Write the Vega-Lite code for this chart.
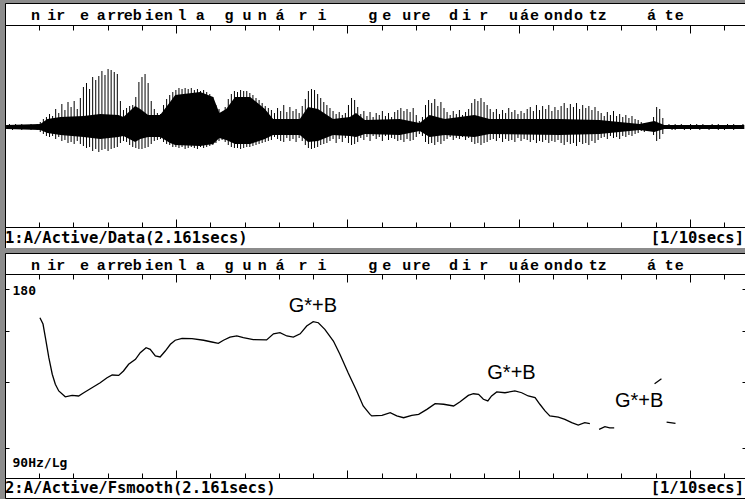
{
"$schema": "https://vega.github.io/schema/vega-lite/v6.json",
"background": "#8c8c8c",
"padding": {"left": 4, "top": 2, "right": 1, "bottom": 2},
"spacing": 0,
"bounds": "flush",
"config": {"view": {"stroke": "black", "strokeWidth": 1, "fill": "white"}},
"datasets": {
"phon": [{"t":89,"c":"n"},{"t":150,"c":"ir"},{"t":232,"c":"e"},{"t":281,"c":"a"},{"t":325,"c":"rr"},{"t":360,"c":"e"},{"t":386,"c":"b"},{"t":421,"c":"i"},{"t":450,"c":"e"},{"t":477,"c":"n"},{"t":517,"c":"l"},{"t":570,"c":"a"},{"t":654,"c":"g"},{"t":707,"c":"u"},{"t":751,"c":"n"},{"t":803,"c":"á"},{"t":870,"c":"r"},{"t":926,"c":"i"},{"t":1074,"c":"g"},{"t":1115,"c":"e"},{"t":1173,"c":"u"},{"t":1216,"c":"re"},{"t":1310,"c":"d"},{"t":1348,"c":"i"},{"t":1398,"c":"r"},{"t":1485,"c":"u"},{"t":1517,"c":"á"},{"t":1546,"c":"e"},{"t":1587,"c":"o"},{"t":1616,"c":"n"},{"t":1645,"c":"d"},{"t":1675,"c":"o"},{"t":1731,"c":"tz"},{"t":1888,"c":"á"},{"t":1940,"c":"t"},{"t":1969,"c":"e"}],
"spk": [{"t":4,"hi":2,"lo":-2},{"t":13,"hi":3,"lo":-2},{"t":22,"hi":2,"lo":-3},{"t":31,"hi":3,"lo":-2},{"t":40,"hi":1,"lo":-2},{"t":49,"hi":3,"lo":-3},{"t":58,"hi":2,"lo":-2},{"t":67,"hi":2,"lo":-2},{"t":76,"hi":3,"lo":-3},{"t":85,"hi":2,"lo":-2},{"t":94,"hi":3,"lo":-3},{"t":103,"hi":5,"lo":-5},{"t":112,"hi":8,"lo":-7},{"t":121,"hi":10,"lo":-9},{"t":130,"hi":13,"lo":-10},{"t":139,"hi":11,"lo":-9},{"t":148,"hi":18,"lo":-12},{"t":157,"hi":14,"lo":-10},{"t":166,"hi":23,"lo":-14},{"t":175,"hi":17,"lo":-13},{"t":184,"hi":25,"lo":-16},{"t":193,"hi":20,"lo":-15},{"t":202,"hi":26,"lo":-17},{"t":211,"hi":18,"lo":-14},{"t":220,"hi":29,"lo":-17},{"t":229,"hi":40,"lo":-19},{"t":238,"hi":44,"lo":-21},{"t":247,"hi":38,"lo":-20},{"t":256,"hi":50,"lo":-24},{"t":265,"hi":47,"lo":-22},{"t":274,"hi":51,"lo":-25},{"t":283,"hi":56,"lo":-23},{"t":292,"hi":52,"lo":-22},{"t":301,"hi":58,"lo":-24},{"t":310,"hi":57,"lo":-22},{"t":319,"hi":55,"lo":-21},{"t":328,"hi":53,"lo":-20},{"t":337,"hi":26,"lo":-16},{"t":346,"hi":17,"lo":-14},{"t":355,"hi":19,"lo":-15},{"t":364,"hi":21,"lo":-18},{"t":373,"hi":22,"lo":-20},{"t":382,"hi":30,"lo":-21},{"t":391,"hi":45,"lo":-22},{"t":400,"hi":50,"lo":-22},{"t":409,"hi":53,"lo":-21},{"t":418,"hi":44,"lo":-20},{"t":427,"hi":26,"lo":-17},{"t":436,"hi":18,"lo":-14},{"t":445,"hi":14,"lo":-13},{"t":454,"hi":13,"lo":-12},{"t":463,"hi":22,"lo":-15},{"t":472,"hi":28,"lo":-17},{"t":481,"hi":32,"lo":-18},{"t":490,"hi":35,"lo":-20},{"t":499,"hi":37,"lo":-20},{"t":508,"hi":39,"lo":-21},{"t":517,"hi":38,"lo":-20},{"t":526,"hi":39,"lo":-22},{"t":535,"hi":38,"lo":-21},{"t":544,"hi":39,"lo":-20},{"t":553,"hi":37,"lo":-21},{"t":562,"hi":38,"lo":-22},{"t":571,"hi":36,"lo":-20},{"t":580,"hi":37,"lo":-21},{"t":589,"hi":35,"lo":-20},{"t":598,"hi":33,"lo":-19},{"t":607,"hi":30,"lo":-18},{"t":616,"hi":22,"lo":-16},{"t":625,"hi":18,"lo":-14},{"t":634,"hi":15,"lo":-13},{"t":643,"hi":20,"lo":-15},{"t":652,"hi":28,"lo":-18},{"t":661,"hi":33,"lo":-20},{"t":670,"hi":36,"lo":-21},{"t":679,"hi":35,"lo":-21},{"t":688,"hi":37,"lo":-22},{"t":697,"hi":36,"lo":-21},{"t":706,"hi":36,"lo":-20},{"t":715,"hi":34,"lo":-20},{"t":724,"hi":32,"lo":-19},{"t":733,"hi":29,"lo":-18},{"t":742,"hi":27,"lo":-17},{"t":751,"hi":24,"lo":-16},{"t":760,"hi":21,"lo":-15},{"t":769,"hi":19,"lo":-14},{"t":778,"hi":17,"lo":-13},{"t":787,"hi":14,"lo":-10},{"t":796,"hi":19,"lo":-12},{"t":805,"hi":16,"lo":-14},{"t":814,"hi":22,"lo":-15},{"t":823,"hi":15,"lo":-11},{"t":832,"hi":20,"lo":-14},{"t":841,"hi":16,"lo":-12},{"t":850,"hi":18,"lo":-15},{"t":859,"hi":14,"lo":-11},{"t":868,"hi":21,"lo":-14},{"t":877,"hi":28,"lo":-18},{"t":886,"hi":36,"lo":-21},{"t":895,"hi":38,"lo":-22},{"t":904,"hi":37,"lo":-21},{"t":913,"hi":33,"lo":-20},{"t":922,"hi":29,"lo":-18},{"t":931,"hi":25,"lo":-17},{"t":940,"hi":22,"lo":-16},{"t":949,"hi":19,"lo":-14},{"t":958,"hi":16,"lo":-12},{"t":967,"hi":13,"lo":-16},{"t":976,"hi":15,"lo":-12},{"t":985,"hi":12,"lo":-15},{"t":994,"hi":14,"lo":-11},{"t":1003,"hi":22,"lo":-16},{"t":1012,"hi":29,"lo":-18},{"t":1021,"hi":27,"lo":-17},{"t":1030,"hi":20,"lo":-15},{"t":1039,"hi":13,"lo":-11},{"t":1048,"hi":16,"lo":-13},{"t":1057,"hi":11,"lo":-10},{"t":1066,"hi":15,"lo":-14},{"t":1075,"hi":10,"lo":-9},{"t":1084,"hi":14,"lo":-12},{"t":1093,"hi":12,"lo":-10},{"t":1102,"hi":16,"lo":-14},{"t":1111,"hi":11,"lo":-9},{"t":1120,"hi":14,"lo":-13},{"t":1129,"hi":10,"lo":-11},{"t":1138,"hi":15,"lo":-12},{"t":1147,"hi":17,"lo":-14},{"t":1156,"hi":19,"lo":-13},{"t":1165,"hi":16,"lo":-15},{"t":1174,"hi":18,"lo":-12},{"t":1183,"hi":15,"lo":-14},{"t":1192,"hi":19,"lo":-13},{"t":1201,"hi":12,"lo":-10},{"t":1210,"hi":6,"lo":-7},{"t":1219,"hi":10,"lo":-9},{"t":1228,"hi":22,"lo":-15},{"t":1237,"hi":27,"lo":-17},{"t":1246,"hi":24,"lo":-16},{"t":1255,"hi":28,"lo":-18},{"t":1264,"hi":21,"lo":-15},{"t":1273,"hi":25,"lo":-17},{"t":1282,"hi":19,"lo":-14},{"t":1291,"hi":15,"lo":-12},{"t":1300,"hi":12,"lo":-10},{"t":1309,"hi":16,"lo":-13},{"t":1318,"hi":13,"lo":-11},{"t":1327,"hi":17,"lo":-12},{"t":1336,"hi":12,"lo":-10},{"t":1345,"hi":15,"lo":-13},{"t":1354,"hi":18,"lo":-11},{"t":1363,"hi":24,"lo":-15},{"t":1372,"hi":28,"lo":-17},{"t":1381,"hi":26,"lo":-16},{"t":1390,"hi":29,"lo":-18},{"t":1399,"hi":25,"lo":-16},{"t":1408,"hi":22,"lo":-15},{"t":1417,"hi":18,"lo":-13},{"t":1426,"hi":15,"lo":-12},{"t":1435,"hi":18,"lo":-14},{"t":1444,"hi":13,"lo":-11},{"t":1453,"hi":17,"lo":-15},{"t":1462,"hi":14,"lo":-12},{"t":1471,"hi":19,"lo":-14},{"t":1480,"hi":15,"lo":-13},{"t":1489,"hi":17,"lo":-15},{"t":1498,"hi":13,"lo":-11},{"t":1507,"hi":16,"lo":-14},{"t":1516,"hi":14,"lo":-12},{"t":1525,"hi":18,"lo":-13},{"t":1534,"hi":20,"lo":-15},{"t":1543,"hi":16,"lo":-13},{"t":1552,"hi":22,"lo":-16},{"t":1561,"hi":17,"lo":-14},{"t":1570,"hi":21,"lo":-15},{"t":1579,"hi":18,"lo":-13},{"t":1588,"hi":22,"lo":-16},{"t":1597,"hi":16,"lo":-14},{"t":1606,"hi":20,"lo":-15},{"t":1615,"hi":17,"lo":-13},{"t":1624,"hi":21,"lo":-16},{"t":1633,"hi":24,"lo":-18},{"t":1642,"hi":19,"lo":-15},{"t":1651,"hi":23,"lo":-17},{"t":1660,"hi":20,"lo":-16},{"t":1669,"hi":24,"lo":-19},{"t":1678,"hi":18,"lo":-15},{"t":1687,"hi":22,"lo":-17},{"t":1696,"hi":19,"lo":-16},{"t":1705,"hi":21,"lo":-18},{"t":1714,"hi":17,"lo":-14},{"t":1723,"hi":20,"lo":-16},{"t":1732,"hi":16,"lo":-13},{"t":1741,"hi":14,"lo":-11},{"t":1750,"hi":11,"lo":-10},{"t":1759,"hi":15,"lo":-12},{"t":1768,"hi":12,"lo":-9},{"t":1777,"hi":16,"lo":-11},{"t":1786,"hi":11,"lo":-10},{"t":1795,"hi":13,"lo":-12},{"t":1804,"hi":10,"lo":-9},{"t":1813,"hi":12,"lo":-10},{"t":1822,"hi":9,"lo":-8},{"t":1831,"hi":11,"lo":-9},{"t":1840,"hi":8,"lo":-7},{"t":1849,"hi":7,"lo":-6},{"t":1858,"hi":5,"lo":-4},{"t":1867,"hi":4,"lo":-5},{"t":1876,"hi":3,"lo":-4},{"t":1885,"hi":5,"lo":-3},{"t":1894,"hi":10,"lo":-8},{"t":1903,"hi":20,"lo":-14},{"t":1912,"hi":18,"lo":-12},{"t":1921,"hi":9,"lo":-7},{"t":1930,"hi":2,"lo":-2},{"t":1939,"hi":3,"lo":-2},{"t":1948,"hi":2,"lo":-3},{"t":1957,"hi":3,"lo":-3},{"t":1966,"hi":2,"lo":-2},{"t":1975,"hi":3,"lo":-2},{"t":1984,"hi":2,"lo":-3},{"t":1993,"hi":2,"lo":-2},{"t":2002,"hi":3,"lo":-3},{"t":2011,"hi":2,"lo":-2},{"t":2020,"hi":3,"lo":-2},{"t":2029,"hi":2,"lo":-3},{"t":2038,"hi":3,"lo":-2},{"t":2047,"hi":2,"lo":-2},{"t":2056,"hi":2,"lo":-3},{"t":2065,"hi":3,"lo":-2},{"t":2074,"hi":2,"lo":-2},{"t":2083,"hi":3,"lo":-3},{"t":2092,"hi":2,"lo":-2},{"t":2101,"hi":2,"lo":-3},{"t":2110,"hi":3,"lo":-2},{"t":2119,"hi":2,"lo":-2},{"t":2128,"hi":3,"lo":-3},{"t":2137,"hi":2,"lo":-2},{"t":2146,"hi":2,"lo":-2},{"t":2155,"hi":3,"lo":-2}],
"core": [{"t":4,"chi":2,"clo":-2},{"t":103,"chi":3,"clo":-3},{"t":124,"chi":8,"clo":-6},{"t":162,"chi":10,"clo":-8},{"t":229,"chi":11,"clo":-10},{"t":278,"chi":13,"clo":-12},{"t":331,"chi":12,"clo":-10},{"t":346,"chi":10,"clo":-9},{"t":380,"chi":21,"clo":-15},{"t":395,"chi":18,"clo":-12},{"t":418,"chi":12,"clo":-10},{"t":453,"chi":12,"clo":-10},{"t":482,"chi":25,"clo":-16},{"t":497,"chi":32,"clo":-18},{"t":570,"chi":35,"clo":-19},{"t":608,"chi":30,"clo":-17},{"t":626,"chi":14,"clo":-11},{"t":646,"chi":18,"clo":-13},{"t":672,"chi":30,"clo":-17},{"t":716,"chi":30,"clo":-17},{"t":759,"chi":18,"clo":-12},{"t":783,"chi":8,"clo":-8},{"t":861,"chi":8,"clo":-8},{"t":885,"chi":20,"clo":-15},{"t":914,"chi":18,"clo":-14},{"t":958,"chi":8,"clo":-8},{"t":1007,"chi":10,"clo":-9},{"t":1025,"chi":14,"clo":-10},{"t":1051,"chi":7,"clo":-7},{"t":1153,"chi":8,"clo":-8},{"t":1211,"chi":4,"clo":-4},{"t":1240,"chi":12,"clo":-10},{"t":1284,"chi":8,"clo":-8},{"t":1371,"chi":12,"clo":-10},{"t":1415,"chi":8,"clo":-7},{"t":1619,"chi":8,"clo":-8},{"t":1736,"chi":7,"clo":-7},{"t":1853,"chi":3,"clo":-3},{"t":1896,"chi":6,"clo":-5},{"t":1925,"chi":2,"clo":-2},{"t":2159,"chi":2,"clo":-2}],
"f0": [{"t":102,"f":158.7,"seg":1},{"t":111,"f":154.4,"seg":1},{"t":118,"f":145.5,"seg":1},{"t":128,"f":133.4,"seg":1},{"t":138,"f":124.1,"seg":1},{"t":147,"f":118.8,"seg":1},{"t":157,"f":115.4,"seg":1},{"t":176,"f":112.5,"seg":1},{"t":196,"f":113.2,"seg":1},{"t":215,"f":112.9,"seg":1},{"t":230,"f":114.5,"seg":1},{"t":254,"f":117.0,"seg":1},{"t":278,"f":119.6,"seg":1},{"t":298,"f":122.2,"seg":1},{"t":313,"f":123.7,"seg":1},{"t":332,"f":123.5,"seg":1},{"t":346,"f":125.9,"seg":1},{"t":361,"f":129.6,"seg":1},{"t":381,"f":132.4,"seg":1},{"t":395,"f":136.3,"seg":1},{"t":412,"f":139.3,"seg":1},{"t":424,"f":138.3,"seg":1},{"t":439,"f":134.4,"seg":1},{"t":453,"f":133.8,"seg":1},{"t":468,"f":137.3,"seg":1},{"t":483,"f":141.4,"seg":1},{"t":497,"f":143.9,"seg":1},{"t":517,"f":145.1,"seg":1},{"t":546,"f":144.9,"seg":1},{"t":580,"f":143.9,"seg":1},{"t":604,"f":142.8,"seg":1},{"t":623,"f":142.0,"seg":1},{"t":638,"f":143.9,"seg":1},{"t":657,"f":145.9,"seg":1},{"t":677,"f":146.6,"seg":1},{"t":696,"f":145.5,"seg":1},{"t":725,"f":144.3,"seg":1},{"t":764,"f":144.1,"seg":1},{"t":784,"f":148.0,"seg":1},{"t":803,"f":148.7,"seg":1},{"t":823,"f":146.6,"seg":1},{"t":842,"f":145.9,"seg":1},{"t":862,"f":148.0,"seg":1},{"t":881,"f":153.1,"seg":1},{"t":900,"f":156.0,"seg":1},{"t":915,"f":155.3,"seg":1},{"t":934,"f":150.9,"seg":1},{"t":959,"f":143.4,"seg":1},{"t":978,"f":135.4,"seg":1},{"t":1002,"f":124.9,"seg":1},{"t":1027,"f":115.4,"seg":1},{"t":1046,"f":108.1,"seg":1},{"t":1066,"f":104.2,"seg":1},{"t":1071,"f":103.5,"seg":1},{"t":1101,"f":103.8,"seg":1},{"t":1125,"f":105.0,"seg":1},{"t":1144,"f":103.5,"seg":1},{"t":1164,"f":102.7,"seg":1},{"t":1188,"f":103.8,"seg":1},{"t":1208,"f":104.2,"seg":1},{"t":1232,"f":106.5,"seg":1},{"t":1256,"f":109.2,"seg":1},{"t":1281,"f":108.9,"seg":1},{"t":1310,"f":108.1,"seg":1},{"t":1329,"f":110.1,"seg":1},{"t":1353,"f":113.2,"seg":1},{"t":1368,"f":114.0,"seg":1},{"t":1383,"f":113.7,"seg":1},{"t":1397,"f":111.3,"seg":1},{"t":1410,"f":110.5,"seg":1},{"t":1421,"f":112.9,"seg":1},{"t":1436,"f":114.9,"seg":1},{"t":1460,"f":114.5,"seg":1},{"t":1489,"f":115.4,"seg":1},{"t":1509,"f":114.5,"seg":1},{"t":1528,"f":112.9,"seg":1},{"t":1548,"f":112.1,"seg":1},{"t":1562,"f":108.9,"seg":1},{"t":1577,"f":105.8,"seg":1},{"t":1591,"f":103.5,"seg":1},{"t":1616,"f":103.0,"seg":1},{"t":1635,"f":102.0,"seg":1},{"t":1655,"f":100.5,"seg":1},{"t":1674,"f":99.5,"seg":1},{"t":1693,"f":100.5,"seg":1},{"t":1708,"f":100.1,"seg":1},{"t":1735,"f":97.6,"seg":2},{"t":1752,"f":98.8,"seg":2},{"t":1766,"f":98.3,"seg":2},{"t":1779,"f":98.3,"seg":2},{"t":1897,"f":119.1,"seg":3},{"t":1917,"f":121.7,"seg":3},{"t":1932,"f":100.8,"seg":4},{"t":1958,"f":100.2,"seg":4}],
"ann": [{"t":899,"f":167.0,"s":"G*+B"},{"t":1479,"f":124.8,"s":"G*+B"},{"t":1852,"f":110.5,"s":"G*+B"}],
"ylab": [{"t":22,"f":178.3,"s":"180"},{"t":22,"f":84.3,"s":"90Hz/Lg"}]
},
"vconcat": [
 {"width": 740, "height": 22, "data": {"name": "phon"},
  "mark": {"type": "text", "font": "Liberation Mono", "fontWeight": "bold", "fontSize": 15, "baseline": "middle", "dy": 1, "color": "black"},
  "encoding": {"x": {"field": "t", "type": "quantitative", "scale": {"domain": [0, 2161], "nice": false, "zero": false}, "axis": null}, "text": {"field": "c"}}},
 {"width": 740, "height": 202, "layer": [
  {"data": {"name": "core"}, "mark": {"type": "area", "color": "black"},
   "encoding": {"x": {"field": "t", "type": "quantitative", "scale": {"domain": [0, 2161], "nice": false, "zero": false},
     "axis": {"orient": "top", "values": [0,100,200,300,400,500,600,700,800,900,1000,1100,1200,1300,1400,1500,1600,1700,1800,1900,2000,2100], "tickSize": {"condition": {"test": "datum.value % 500 === 0", "value": -8}, "value": -5}, "labels": false, "domain": false, "grid": false, "title": null, "tickColor": "black"}},
    "y": {"field": "chi", "type": "quantitative", "scale": {"domain": [-100, 102], "nice": false, "zero": false}, "axis": null},
    "y2": {"field": "clo"}}},
  {"data": {"name": "spk"}, "mark": {"type": "rule", "color": "black", "strokeWidth": 1},
   "encoding": {"x": {"field": "t", "type": "quantitative",
     "axis": {"orient": "bottom", "values": [0,100,200,300,400,500,600,700,800,900,1000,1100,1200,1300,1400,1500,1600,1700,1800,1900,2000,2100], "tickSize": {"condition": {"test": "datum.value % 500 === 0", "value": -8}, "value": -5}, "labels": false, "domain": false, "grid": false, "title": null, "tickColor": "black"}},
    "y": {"field": "hi", "type": "quantitative", "axis": null},
    "y2": {"field": "lo"}}}
 ]},
 {"width": 740, "height": 21, "layer": [
  {"data": {"values": [{"t": 0, "s": "1:A/Active/Data(2.161secs)"}]},
   "mark": {"type": "text", "font": "DejaVu Sans Mono", "fontWeight": "bold", "fontSize": 15.5, "align": "left", "baseline": "middle", "dx": 0, "color": "black"},
   "encoding": {"x": {"field": "t", "type": "quantitative", "scale": {"domain": [0, 2161], "nice": false, "zero": false}, "axis": null}, "text": {"field": "s"}}},
  {"data": {"values": [{"t": 2161, "s": "[1/10secs]"}]},
   "mark": {"type": "text", "font": "DejaVu Sans Mono", "fontWeight": "bold", "fontSize": 15.5, "align": "right", "baseline": "middle", "dx": -1, "color": "black"},
   "encoding": {"x": {"field": "t", "type": "quantitative", "axis": null}, "text": {"field": "s"}}}
 ]},
 {"width": 740, "height": 5, "data": {"values": [{"t": 0}]},
  "mark": {"type": "tick", "opacity": 0},
  "encoding": {"x": {"field": "t", "type": "quantitative", "axis": null}},
  "view": {"fill": "#8c8c8c", "stroke": null}},
 {"width": 740, "height": 21, "data": {"name": "phon"},
  "mark": {"type": "text", "font": "Liberation Mono", "fontWeight": "bold", "fontSize": 15, "baseline": "middle", "dy": 1, "color": "black"},
  "encoding": {"x": {"field": "t", "type": "quantitative", "scale": {"domain": [0, 2161], "nice": false, "zero": false}, "axis": null}, "text": {"field": "c"}}},
 {"width": 740, "height": 204, "layer": [
  {"data": {"name": "f0"}, "mark": {"type": "line", "color": "black", "strokeWidth": 1.3},
   "encoding": {"x": {"field": "t", "type": "quantitative", "scale": {"domain": [0, 2161], "nice": false, "zero": false},
     "axis": {"orient": "bottom", "values": [0,100,200,300,400,500,600,700,800,900,1000,1100,1200,1300,1400,1500,1600,1700,1800,1900,2000,2100], "tickSize": {"condition": {"test": "datum.value % 500 === 0", "value": -8}, "value": -5}, "labels": false, "domain": false, "grid": false, "title": null, "tickColor": "black"}},
    "y": {"field": "f", "type": "quantitative", "scale": {"type": "log", "domain": [79, 192], "nice": false, "zero": false},
     "axis": {"orient": "left", "values": [90, 120, 150, 180], "tickSize": -4, "labels": false, "domain": false, "grid": false, "title": null, "tickColor": "black"}},
    "detail": {"field": "seg"}}},
  {"data": {"name": "ann"}, "mark": {"type": "text", "font": "Liberation Sans", "fontSize": 20, "baseline": "middle", "color": "black"},
   "encoding": {"x": {"field": "t", "type": "quantitative",
     "axis": {"orient": "top", "values": [0,100,200,300,400,500,600,700,800,900,1000,1100,1200,1300,1400,1500,1600,1700,1800,1900,2000,2100], "tickSize": {"condition": {"test": "datum.value % 500 === 0", "value": -8}, "value": -5}, "labels": false, "domain": false, "grid": false, "title": null, "tickColor": "black"}},
    "y": {"field": "f", "type": "quantitative",
     "axis": {"orient": "right", "values": [90, 120, 150, 180], "tickSize": -3, "labels": false, "domain": false, "grid": false, "title": null, "tickColor": "black"}},
    "text": {"field": "s"}}},
  {"data": {"name": "ylab"}, "mark": {"type": "text", "font": "DejaVu Sans Mono", "fontWeight": "bold", "fontSize": 13, "align": "left", "baseline": "middle", "color": "black"},
   "encoding": {"x": {"field": "t", "type": "quantitative", "axis": null}, "y": {"field": "f", "type": "quantitative", "axis": null}, "text": {"field": "s"}}}
 ]},
 {"width": 740, "height": 20, "layer": [
  {"data": {"values": [{"t": 0, "s": "2:A/Active/Fsmooth(2.161secs)"}]},
   "mark": {"type": "text", "font": "DejaVu Sans Mono", "fontWeight": "bold", "fontSize": 15.5, "align": "left", "baseline": "middle", "dx": 0, "color": "black"},
   "encoding": {"x": {"field": "t", "type": "quantitative", "scale": {"domain": [0, 2161], "nice": false, "zero": false}, "axis": null}, "text": {"field": "s"}}},
  {"data": {"values": [{"t": 2161, "s": "[1/10secs]"}]},
   "mark": {"type": "text", "font": "DejaVu Sans Mono", "fontWeight": "bold", "fontSize": 15.5, "align": "right", "baseline": "middle", "dx": -1, "color": "black"},
   "encoding": {"x": {"field": "t", "type": "quantitative", "axis": null}, "text": {"field": "s"}}}
 ]}
]
}
